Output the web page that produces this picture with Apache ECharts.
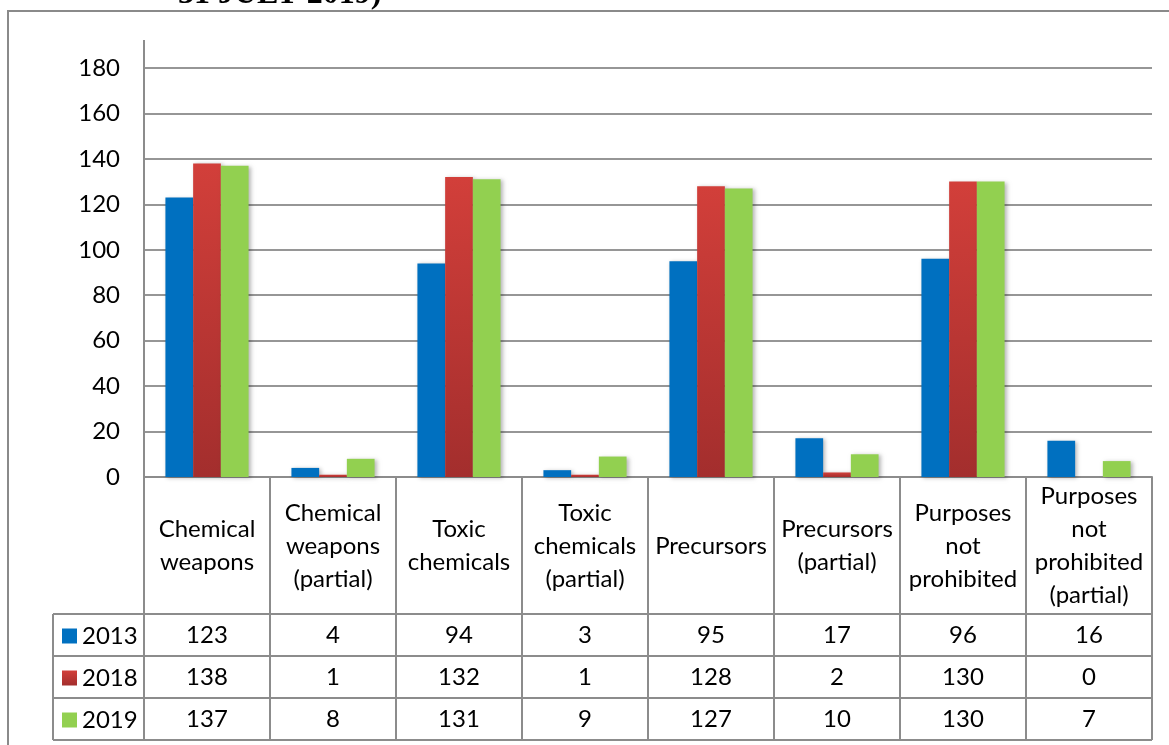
<!DOCTYPE html>
<html>
<head>
<meta charset="utf-8">
<script src="https://cdn.jsdelivr.net/npm/echarts@6/dist/echarts.min.js"></script>
<style>
  html, body { margin: 0; padding: 0; background: #fff; }
  #chart { width: 1169px; height: 745px; }
</style>
</head>
<body>
<div id="chart"></div>
<script>
// Categories (header row of the data table) and yearly counts
const categories = [
  'Chemical\nweapons',
  'Chemical\nweapons\n(partial)',
  'Toxic\nchemicals',
  'Toxic\nchemicals\n(partial)',
  'Precursors',
  'Precursors\n(partial)',
  'Purposes\nnot\nprohibited',
  'Purposes\nnot\nprohibited\n(partial)'
];
const years = ['2013', '2018', '2019'];
const values2013 = [123, 4, 94, 3, 95, 17, 96, 16];
const values2018 = [138, 1, 132, 1, 128, 2, 130, 0];
const values2019 = [137, 8, 131, 9, 127, 10, 130, 7];
const yTicks = [0, 20, 40, 60, 80, 100, 120, 140, 160, 180];

const FONT = 'Lato, "Open Sans", sans-serif';
const FS = 24;
const LINE = '#8c8c8c';

// Plot / table geometry
const G = { left: 144, right: 17, top: 68, bottom: 268 };
const W = 1169, H = 745;
const plotRight = W - G.right;          // 1152
const axisY = H - G.bottom;             // 477
const headerBottom = 614;
const rowH = 42;
const tableLeft = 53;
const rowMargins = [158, 200, 242];     // label centre offsets below the axis

const rows = [values2013, values2018, values2019];

const chart = echarts.init(document.getElementById('chart'), null, { renderer: 'canvas' });

const barShadow = {
  shadowBlur: 4,
  shadowColor: 'rgba(0,0,0,0.28)',
  shadowOffsetX: 2,
  shadowOffsetY: 1
};

function valueAxis(k) {
  return {
    type: 'category',
    gridIndex: 0,
    position: 'bottom',
    data: categories,
    axisLine: { show: false },
    axisTick: { show: false },
    axisLabel: {
      interval: 0,
      margin: rowMargins[k],
      verticalAlign: 'middle',
      fontFamily: FONT,
      fontSize: FS,
      color: '#000',
      formatter: (v, i) => String(rows[k][i])
    }
  };
}

// Table rules: horizontal lines under the header and each data row
const tableLines = [];
for (let r = 0; r <= 3; r++) {
  const y = headerBottom + r * rowH;
  tableLines.push({
    type: 'line',
    shape: { x1: tableLeft, y1: y, x2: plotRight, y2: y },
    style: { stroke: LINE, lineWidth: 2 },
    silent: true
  });
}
tableLines.push({
  type: 'line',
  shape: { x1: tableLeft, y1: headerBottom, x2: tableLeft, y2: headerBottom + 3 * rowH },
  style: { stroke: LINE, lineWidth: 2 },
  silent: true
});

const option = {
  backgroundColor: '#fff',
  animation: false,
  grid: { left: G.left, right: G.right, top: G.top, bottom: G.bottom, containLabel: false },
  legend: {
    data: years,
    orient: 'vertical',
    left: 62,
    top: 622,
    padding: 0,
    itemGap: 14,
    itemWidth: 15,
    itemHeight: 15,
    icon: 'rect',
    selectedMode: false,
    textStyle: { fontFamily: FONT, fontSize: FS, color: '#000', lineHeight: 28 }
  },
  xAxis: [
    {
      type: 'category',
      data: categories,
      axisLine: { show: true, lineStyle: { color: LINE, width: 2 } },
      axisTick: {
        show: true,
        interval: 0,
        length: headerBottom + 3 * rowH - axisY,
        lineStyle: { color: LINE, width: 2 }
      },
      axisLabel: {
        interval: 0,
        margin: 69,
        verticalAlign: 'middle',
        lineHeight: 33,
        fontFamily: FONT,
        fontSize: FS,
        color: '#000'
      }
    },
    valueAxis(0),
    valueAxis(1),
    valueAxis(2)
  ],
  yAxis: {
    type: 'value',
    min: yTicks[0],
    max: yTicks[yTicks.length - 1],
    interval: yTicks[1] - yTicks[0],
    axisLine: { show: true, lineStyle: { color: LINE, width: 2 } },
    axisTick: { show: false },
    axisLabel: { margin: 24, fontFamily: FONT, fontSize: FS, color: '#000' },
    splitLine: { show: true, lineStyle: { color: '#969696', width: 2 } }
  },
  series: [
    {
      name: years[0], type: 'bar', data: values2013,
      barGap: '0%', barCategoryGap: '34%',
      itemStyle: Object.assign({ color: '#0070c0' }, barShadow)
    },
    {
      name: years[1], type: 'bar', data: values2018,
      barGap: '0%', barCategoryGap: '34%',
      itemStyle: Object.assign({
        color: new echarts.graphic.LinearGradient(0, 0, 0, 1, [
          { offset: 0, color: '#d23f3a' },
          { offset: 1, color: '#a32e2d' }
        ])
      }, barShadow)
    },
    {
      name: years[2], type: 'bar', data: values2019,
      barGap: '0%', barCategoryGap: '34%',
      itemStyle: Object.assign({ color: '#92d050' }, barShadow)
    }
  ],
  graphic: [
    // outer frame of the chart object
    {
      type: 'rect',
      shape: { x: 8, y: 11, width: W + 20, height: H + 20 },
      style: { fill: null, stroke: '#8a8a8a', lineWidth: 2 },
      silent: true,
      z: 0
    },
    // upward extension of the value axis line
    {
      type: 'line',
      shape: { x1: G.left, y1: 40, x2: G.left, y2: G.top },
      style: { stroke: LINE, lineWidth: 2 },
      silent: true
    },
    // tail of the caption line above the chart (runs off the top edge)
    {
      type: 'text',
      x: 178,
      y: -5,
      style: {
        text: '31 JULY 2019)',
        font: 'bold 32px "Liberation Serif", "DejaVu Serif", serif',
        fill: '#000',
        verticalAlign: 'middle'
      },
      silent: true
    }
  ].concat(tableLines)
};

chart.setOption(option);
</script>
</body>
</html>
